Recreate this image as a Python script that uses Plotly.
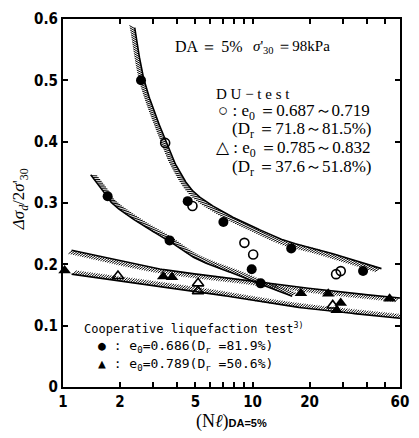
import numpy as np
import plotly.graph_objects as go

# ---------------- measured points ----------------
# DU-test, e0 = 0.687~0.719 (open circles)
du_dense_n = [3.46, 4.82, 9.06, 10.08, 27.6, 29.2]
du_dense_r = [0.398, 0.295, 0.235, 0.216, 0.184, 0.189]
# DU-test, e0 = 0.785~0.832 (open triangles)
du_loose_n = [1.95, 5.16, 5.16, 26.5]
du_loose_r = [0.181, 0.169, 0.156, 0.133]
# Cooperative liquefaction test, e0 = 0.686 (filled circles)
co_dense_n = [1.72, 2.58, 3.65, 4.55, 7.02, 9.9, 11.04, 16.0, 38.3]
co_dense_r = [0.311, 0.500, 0.239, 0.303, 0.269, 0.192, 0.169, 0.226, 0.189]
# Cooperative liquefaction test, e0 = 0.789 (filled triangles)
co_loose_n = [1.02, 3.38, 3.76, 18.0, 25.1, 27.8, 29.2, 52.9]
co_loose_r = [0.190, 0.180, 0.179, 0.153, 0.152, 0.125, 0.137, 0.144]

# ---------------- hand-drawn strength curves ----------------
upper_n = [2.39, 2.69, 3.48, 3.91, 4.87, 6.94, 10.3, 14.7, 21.8, 32.3, 47.9]
upper_r = [0.586, 0.498, 0.401, 0.364, 0.319, 0.286, 0.260, 0.239, 0.225, 0.209, 0.193]
mid_n = [1.40, 1.61, 1.81, 2.59, 3.55, 5.06, 8.79, 11.1, 16.2]
mid_r = [0.346, 0.322, 0.300, 0.265, 0.240, 0.209, 0.180, 0.167, 0.148]
band_top_n = [1.11, 3.15, 9.5, 23.6, 60]
band_top_r = [0.223, 0.193, 0.174, 0.158, 0.145]
band_bot_n = [1.11, 5.06, 16.5, 60]
band_bot_r = [0.184, 0.156, 0.131, 0.112]

# ---------------- axes ----------------
x_ticks = [1, 2, 3, 4, 5, 6, 7, 8, 9, 10, 20, 30, 40, 50, 60]
x_labels = ["1", "2", "", "", "5", "", "", "", "", "10", "20", "", "", "", "60"]
y_ticks = [0, 0.1, 0.2, 0.3, 0.4, 0.5, 0.6]
y_labels = ["0", "0.1", "0.2", "0.3", "0.4", "0.5", "0.6"]

W, H = 419, 438
ML, MR, MT, MB = 63, 10, 13, 51
PW, PH = W - ML - MR, H - MT - MB
XMAX = np.log10(60)
YMAX = 0.6


def to_px(n, r):
    n = np.asarray(n, float)
    r = np.asarray(r, float)
    return ML + PW * np.log10(n) / XMAX, MT + PH * (YMAX - r) / YMAX


def from_px(px, py):
    return 10 ** ((np.asarray(px) - ML) / PW * XMAX), YMAX - (np.asarray(py) - MT) / PH * YMAX


def smooth(n, r, per_seg=40):
    """Centripetal Catmull-Rom through the curve's anchor points, in screen space."""
    px, py = to_px(n, r)
    P = np.column_stack([px, py])
    P = np.vstack([2 * P[0] - P[1], P, 2 * P[-1] - P[-2]])
    out = []
    for i in range(1, len(P) - 2):
        p0, p1, p2, p3 = P[i - 1], P[i], P[i + 1], P[i + 2]
        t0 = 0.0
        t1 = t0 + np.linalg.norm(p1 - p0) ** 0.5
        t2 = t1 + np.linalg.norm(p2 - p1) ** 0.5
        t3 = t2 + np.linalg.norm(p3 - p2) ** 0.5
        for t in np.linspace(t1, t2, per_seg, endpoint=False):
            a1 = (t1 - t) / (t1 - t0) * p0 + (t - t0) / (t1 - t0) * p1
            a2 = (t2 - t) / (t2 - t1) * p1 + (t - t1) / (t2 - t1) * p2
            a3 = (t3 - t) / (t3 - t2) * p2 + (t - t2) / (t3 - t2) * p3
            b1 = (t2 - t) / (t2 - t0) * a1 + (t - t0) / (t2 - t0) * a2
            b2 = (t3 - t) / (t3 - t1) * a2 + (t - t1) / (t3 - t1) * a3
            out.append((t2 - t) / (t2 - t1) * b1 + (t - t1) / (t2 - t1) * b2)
    out.append(P[-2])
    return np.array(out)


def hatch(curve, side, step=2.4, length=6.0, angle=40.0):
    """Short slanted strokes along one side of a screen-space curve."""
    seg = np.diff(curve, axis=0)
    s = np.concatenate([[0], np.cumsum(np.hypot(seg[:, 0], seg[:, 1]))])
    xs, ys = [], []
    th = np.radians(angle)
    for d in np.arange(step / 2, s[-1], step):
        x0 = np.interp(d, s, curve[:, 0])
        y0 = np.interp(d, s, curve[:, 1])
        i = max(min(np.searchsorted(s, d), len(seg)) - 1, 0)
        tx, ty = seg[i] / np.hypot(*seg[i])
        nx, ny = -ty * side, tx * side
        dx = nx * np.cos(th) - ny * np.sin(th)
        dy = nx * np.sin(th) + ny * np.cos(th)
        n0, r0 = from_px(x0, y0)
        n1, r1 = from_px(x0 + length * dx, y0 + length * dy)
        xs += [n0, n1, None]
        ys += [r0, r1, None]
    return xs, ys


fig = go.Figure()

curves = [
    (upper_n, upper_r, 1, 6.5),
    (mid_n, mid_r, -1, 6.0),
    (band_top_n, band_top_r, 1, 5.5),
    (band_bot_n, band_bot_r, -1, 5.5),
]
for n, r, side, ln in curves:
    c = smooth(n, r)
    hx, hy = hatch(c, side, length=ln)
    fig.add_trace(go.Scatter(x=hx, y=hy, mode="lines", line=dict(color="black", width=1),
                             hoverinfo="skip", showlegend=False))
    cx, cy = from_px(c[:, 0], c[:, 1])
    fig.add_trace(go.Scatter(x=cx, y=cy, mode="lines", line=dict(color="black", width=1.6),
                             hoverinfo="skip", showlegend=False))

fig.add_trace(go.Scatter(x=co_dense_n, y=co_dense_r, mode="markers", showlegend=False,
                         marker=dict(symbol="circle", size=10, color="black")))
fig.add_trace(go.Scatter(x=du_dense_n, y=du_dense_r, mode="markers", showlegend=False,
                         marker=dict(symbol="circle-open", size=9, color="black",
                                     line=dict(width=1.6))))
fig.add_trace(go.Scatter(x=co_loose_n, y=co_loose_r, mode="markers", showlegend=False,
                         cliponaxis=False,
                         marker=dict(symbol="triangle-up", size=11, color="black")))
fig.add_trace(go.Scatter(x=du_loose_n, y=du_loose_r, mode="markers", showlegend=False,
                         marker=dict(symbol="triangle-up-open", size=10, color="black",
                                     line=dict(width=1.6))))

tick_font = dict(family="Liberation Sans Narrow, DejaVu Sans Condensed, Arial Narrow, sans-serif",
                 size=15, color="black", weight="bold")
axis_common = dict(showline=True, linecolor="black", linewidth=2, mirror="allticks",
                   ticks="inside", ticklen=5, tickwidth=1.5, tickcolor="black",
                   showgrid=False, zeroline=False, tickfont=tick_font)
fig.update_xaxes(type="log", range=[0, XMAX], tickmode="array", tickvals=x_ticks,
                 ticktext=x_labels, **axis_common)
fig.update_yaxes(range=[0, YMAX], tickmode="array", tickvals=y_ticks, ticktext=y_labels,
                 **axis_common)


def ax(px):
    return (px - ML) / PW


def ay(py):
    return (H - MB - py) / PH


serif = "Liberation Serif, DejaVu Serif, serif"
mono = "DejaVu Sans Mono, Liberation Mono, monospace"
notes = [
    ("DA ＝ 5%", 176, 41, serif, 16),
    ("<i>σ</i>'<sub>30</sub> ＝98kPa", 256, 41, serif, 15),
    ("D U − t e s t", 218, 89, serif, 15),
    ("○ : e<sub>0</sub> ＝0.687～0.719", 220, 108, serif, 17),
    ("(D<sub>r</sub> ＝71.8～81.5%)", 234, 126, serif, 17),
    ("△ : e<sub>0</sub> ＝0.785～0.832", 218, 145, serif, 17),
    ("(D<sub>r</sub> ＝37.6～51.8%)", 234, 164, serif, 17),
    ("Cooperative liquefaction test<sup>3)</sup>", 82, 327, mono, 12),
    ("● : e<sub>0</sub>=0.686(D<sub>r</sub> =81.9%)", 97, 346, mono, 13),
    ("▲ : e<sub>0</sub>=0.789(D<sub>r</sub> =50.6%)", 97, 364, mono, 13),
]
for text, px, py, fam, size in notes:
    fig.add_annotation(x=ax(px), y=ay(py), xref="paper", yref="paper", text=text,
                       showarrow=False, xanchor="left", yanchor="middle",
                       font=dict(family=fam, size=size, color="black"))

fig.add_annotation(x=ax(236), y=ay(422), xref="paper", yref="paper",
                   text="(N<i>ℓ</i>)<span style='font-family:Liberation Sans Narrow, sans-serif;"
                        "font-weight:bold;font-size:11px'>DA=5%</span>",
                   showarrow=False, xanchor="center", yanchor="middle",
                   font=dict(family=serif, size=18, color="black"))
fig.add_annotation(x=ax(19), y=ay(196), xref="paper", yref="paper",
                   text="<i>Δσ<sub>d</sub></i>/2<i>σ</i>'<sub>30</sub>", showarrow=False,
                   textangle=-90, xanchor="center", yanchor="middle",
                   font=dict(family=serif, size=17, color="black"))

fig.update_layout(width=W, height=H, autosize=False,
                  margin=dict(l=ML, r=MR, t=MT, b=MB),
                  paper_bgcolor="white", plot_bgcolor="white")

fig.write_html("out.html")
